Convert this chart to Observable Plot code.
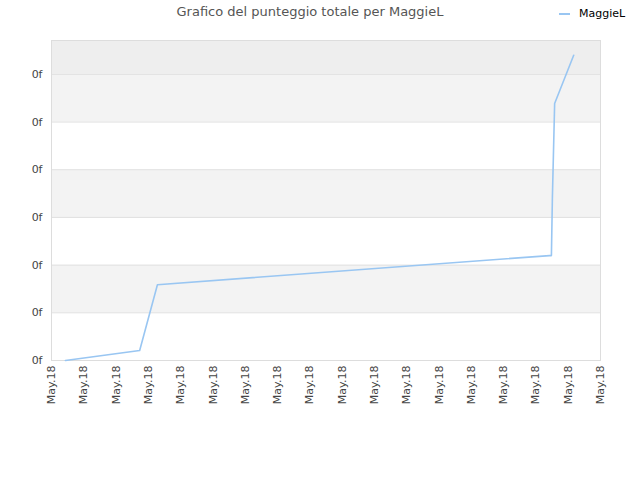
<!DOCTYPE html>
<html>
<head>
<meta charset="utf-8">
<script src="https://cdn.jsdelivr.net/npm/d3@7"></script>
<script src="https://cdn.jsdelivr.net/npm/@observablehq/plot@0.6"></script>
<style>
  body { margin: 0; background: #fff; font-family: "DejaVu Sans", sans-serif; }
  #wrap { position: relative; width: 640px; height: 480px; }
  #title { position: absolute; left: 0; width: 620px; top: 4px; text-align: center; font-size: 13px; color: #555; }
  #legend { position: absolute; left: 559px; top: 7px; font-size: 11px; color: #000; display: flex; align-items: center; }
  #legend .sw { width: 11px; height: 2px; background: #99c6f2; margin-right: 9px; }
  #chart { position: absolute; left: 0; top: 0; }
</style>
</head>
<body>
<div id="wrap">
  <div id="chart"></div>
  <div id="title">Grafico del punteggio totale per MaggieL</div>
  <div id="legend"><span class="sw"></span><span>MaggieL</span></div>
</div>
<script>
const seriesName = "MaggieL";
// x positions (tick index units), y values (score)
const xs = [0.43, 2.73, 3.28, 15.42, 15.48, 15.51, 15.58, 16.17];
const ys = [0.00, 0.21, 1.59, 2.20, 2.20, 3.40, 5.39, 6.40];
const xTicks = d3.range(0, 18);
const xTickLabels = xTicks.map(() => "May.18");
const yTicks = [0, 1, 2, 3, 4, 5, 6];
const yTickLabels = yTicks.map(() => "0f");
const yMax = 6.71;
const xMax = 17;

const data = xs.map((x, i) => ({x, y: ys[i]}));
const bands = yTicks.map((t, i) => ({
  y1: t, y2: i === yTicks.length - 1 ? yMax : yTicks[i + 1],
  fill: i === yTicks.length - 1 ? "#eeeeee" : (i % 2 === 1 ? "#f3f3f3" : "#ffffff")
}));

const chart = Plot.plot({
  width: 640,
  height: 480,
  marginLeft: 51,
  marginRight: 40,
  marginTop: 40,
  marginBottom: 120,
  style: { fontFamily: "DejaVu Sans, sans-serif", fontSize: "11px", color: "#444", background: "transparent" },
  x: { domain: [0, xMax], ticks: xTicks, tickFormat: (d, i) => xTickLabels[i], tickRotate: -90, tickSize: 0, tickPadding: 4, label: null },
  y: { domain: [0, yMax], ticks: yTicks, tickFormat: (d, i) => yTickLabels[i], tickSize: 0, tickPadding: 9, label: null },
  marks: [
    Plot.rect(bands, { x1: 0, x2: xMax, y1: "y1", y2: "y2", fill: "fill" }),
    Plot.ruleY(yTicks.slice(1), { stroke: "#e0e0e0", strokeWidth: 1 }),
    Plot.frame({ stroke: "#dddddd" }),
    Plot.line(data, { x: "x", y: "y", stroke: "#99c6f2", strokeWidth: 1.6 }),
    Plot.axisY({ ticks: yTicks, tickFormat: (d, i) => yTickLabels[i], tickSize: 0, tickPadding: 9, fill: "#444" }),
    Plot.axisX({ ticks: xTicks, tickFormat: (d, i) => xTickLabels[i], tickRotate: -90, tickSize: 0, tickPadding: 5, fill: "#444" })
  ]
});
document.getElementById("chart").appendChild(chart);
</script>
</body>
</html>
